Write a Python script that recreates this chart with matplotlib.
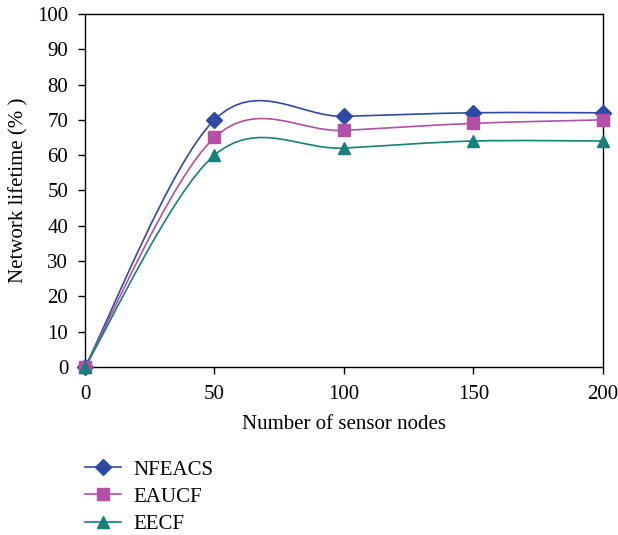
import numpy as np
import matplotlib.pyplot as plt
from matplotlib.path import Path
from matplotlib.patches import PathPatch
from matplotlib.lines import Line2D

plt.rcParams['font.family'] = ['Liberation Serif', 'DejaVu Serif']

nodes = [0, 50, 100, 150, 200]
nfeacs = [0, 70, 71, 72, 72]
eaucf = [0, 65, 67, 69, 70]
eecf = [0, 60, 62, 64, 64]

series = [
    ("NFEACS", nfeacs, "#2f4aa6", "D", 8),
    ("EAUCF", eaucf, "#b34fa6", "s", 8),
    ("EECF", eecf, "#16807a", "^", 9),
]


def smooth_path(x, y):
    # catmull-rom style smoothing (like the excel "smoothed line")
    pts = np.column_stack([x, y]).astype(float)
    ext = np.vstack([pts[0], pts, pts[-1]])
    verts = [tuple(pts[0])]
    codes = [Path.MOVETO]
    for i in range(len(pts) - 1):
        p0, p1, p2, p3 = ext[i], ext[i + 1], ext[i + 2], ext[i + 3]
        c1 = p1 + (p2 - p0) / 6.0
        c2 = p2 - (p3 - p1) / 6.0
        verts += [tuple(c1), tuple(c2), tuple(p2)]
        codes += [Path.CURVE4] * 3
    return Path(verts, codes)


fig = plt.figure(figsize=(6.18, 5.35), dpi=100)
ax = fig.add_axes([0.1375, 0.314, 0.838, 0.66])

handles = []
for name, vals, col, mk, ms in series:
    ax.add_patch(PathPatch(smooth_path(nodes, vals), facecolor="none",
                           edgecolor=col, lw=1.2, zorder=2))
    ax.plot(nodes, vals, linestyle="none", marker=mk, ms=ms, color=col,
            zorder=3, clip_on=False)
    handles.append(Line2D([], [], color=col, lw=1.2, marker=mk, ms=ms, label=name))

ax.set_xlim(0, 200)
ax.set_ylim(0, 100)
ax.set_xticks(nodes)
ax.set_yticks(np.arange(0, 101, 10))
ax.tick_params(direction="out", length=5, width=1, labelsize=15, top=False, right=False)
ax.tick_params(axis="x", pad=8)
ax.tick_params(axis="y", pad=7)
for s in ax.spines.values():
    s.set_linewidth(1)
ax.set_xlabel("Number of sensor nodes", fontsize=15, labelpad=8)
ax.set_ylabel("Network lifetime (% )", fontsize=15, labelpad=6)

fig.legend(handles=handles, loc="upper left", bbox_to_anchor=(0.138, 0.14),
           frameon=False, fontsize=15, handlelength=1.7, handletextpad=0.6,
           labelspacing=0.36, borderpad=0, borderaxespad=0)

fig.savefig("out.png", dpi=100)
